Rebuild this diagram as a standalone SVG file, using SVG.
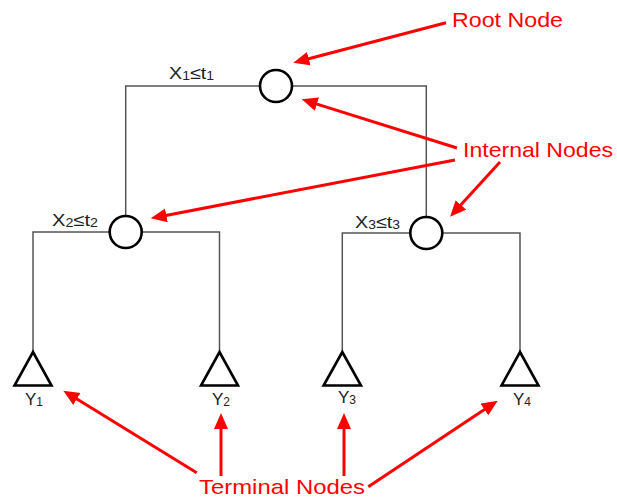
<svg xmlns="http://www.w3.org/2000/svg" width="617" height="500" viewBox="0 0 617 500">
  <style>
    .edge { stroke: #555; stroke-width: 1.5; fill: none; }
    .split { fill: #fff; stroke: #000; stroke-width: 2.6; }
    .leaf { fill: #fff; stroke: #000; stroke-width: 2.6; stroke-linejoin: miter; }
    .lbl { font-family: "Liberation Sans", Arial, sans-serif; font-size: 17px; fill: #222; }
    .sub { font-size: 12px; }
    .note { font-family: "Liberation Sans", Arial, sans-serif; font-size: 21px; fill: #f00; }
    .pointer { stroke: #f00; stroke-width: 3; fill: none; marker-end: url(#head); }
  </style>
  <defs>
    <marker id="head" markerUnits="userSpaceOnUse" markerWidth="18" markerHeight="16" refX="10" refY="7" orient="auto">
      <path d="M0,0 L16,7 L0,14 z" fill="#f00"/>
    </marker>
  </defs>

  <rect width="617" height="500" fill="#fff"/>

  <!-- tree edges -->
  <g id="edges">
    <path class="edge" d="M125.7,216 V86 H426.3 V216"/>
    <path class="edge" d="M33,352 V232 H219.5 V352"/>
    <path class="edge" d="M342.3,352 V233 H520 V352"/>
  </g>

  <!-- split nodes -->
  <g id="root">
    <circle class="split" cx="276" cy="86" r="16"/>
    <text class="lbl" x="169" y="79" textLength="45" lengthAdjust="spacingAndGlyphs">X<tspan class="sub" dy="1">1</tspan><tspan dy="-1">≤t</tspan><tspan class="sub" dy="1">1</tspan></text>
  </g>
  <g id="split-left">
    <circle class="split" cx="125.7" cy="232" r="16"/>
    <text class="lbl" x="52" y="226" textLength="46" lengthAdjust="spacingAndGlyphs">X<tspan class="sub" dy="1">2</tspan><tspan dy="-1">≤t</tspan><tspan class="sub" dy="1">2</tspan></text>
  </g>
  <g id="split-right">
    <circle class="split" cx="426.3" cy="233" r="16"/>
    <text class="lbl" x="355" y="228" textLength="45" lengthAdjust="spacingAndGlyphs">X<tspan class="sub" dy="1">3</tspan><tspan dy="-1">≤t</tspan><tspan class="sub" dy="1">3</tspan></text>
  </g>

  <!-- terminal nodes -->
  <g id="leaf-y1">
    <path class="leaf" d="M33,352 L51.5,385.5 H14.5 z"/>
    <text class="lbl" x="25" y="405">Y<tspan class="sub" dy="1">1</tspan></text>
  </g>
  <g id="leaf-y2">
    <path class="leaf" d="M219.5,352 L238,385.5 H201 z"/>
    <text class="lbl" x="212" y="405">Y<tspan class="sub" dy="1">2</tspan></text>
  </g>
  <g id="leaf-y3">
    <path class="leaf" d="M342.3,352 L361,385.5 H323.6 z"/>
    <text class="lbl" x="338" y="403">Y<tspan class="sub" dy="1">3</tspan></text>
  </g>
  <g id="leaf-y4">
    <path class="leaf" d="M520,352 L538.5,385.5 H501.5 z"/>
    <text class="lbl" x="513" y="405">Y<tspan class="sub" dy="1">4</tspan></text>
  </g>

  <!-- callout labels -->
  <g id="label-root">
    <text class="note" x="452" y="27" textLength="111" lengthAdjust="spacingAndGlyphs">Root Node</text>
  </g>
  <g id="label-internal">
    <text class="note" x="463" y="157" textLength="150" lengthAdjust="spacingAndGlyphs">Internal Nodes</text>
  </g>
  <g id="label-terminal">
    <text class="note" x="199" y="494" textLength="166" lengthAdjust="spacingAndGlyphs">Terminal Nodes</text>
  </g>

  <!-- callout pointers -->
  <g id="pointers">
    <line class="pointer" x1="446" y1="22.7" x2="299.1" y2="61.2"/>
    <line class="pointer" x1="457" y1="148" x2="307.4" y2="101.1"/>
    <line class="pointer" x1="455" y1="160" x2="156.6" y2="217.2"/>
    <line class="pointer" x1="500" y1="162" x2="454.1" y2="212.3"/>
    <line class="pointer" x1="196.7" y1="472.7" x2="68.4" y2="393.8"/>
    <line class="pointer" x1="221" y1="476" x2="221" y2="419"/>
    <line class="pointer" x1="344" y1="476" x2="344" y2="419"/>
    <line class="pointer" x1="368.3" y1="486.7" x2="492.7" y2="404"/>
  </g>
</svg>
